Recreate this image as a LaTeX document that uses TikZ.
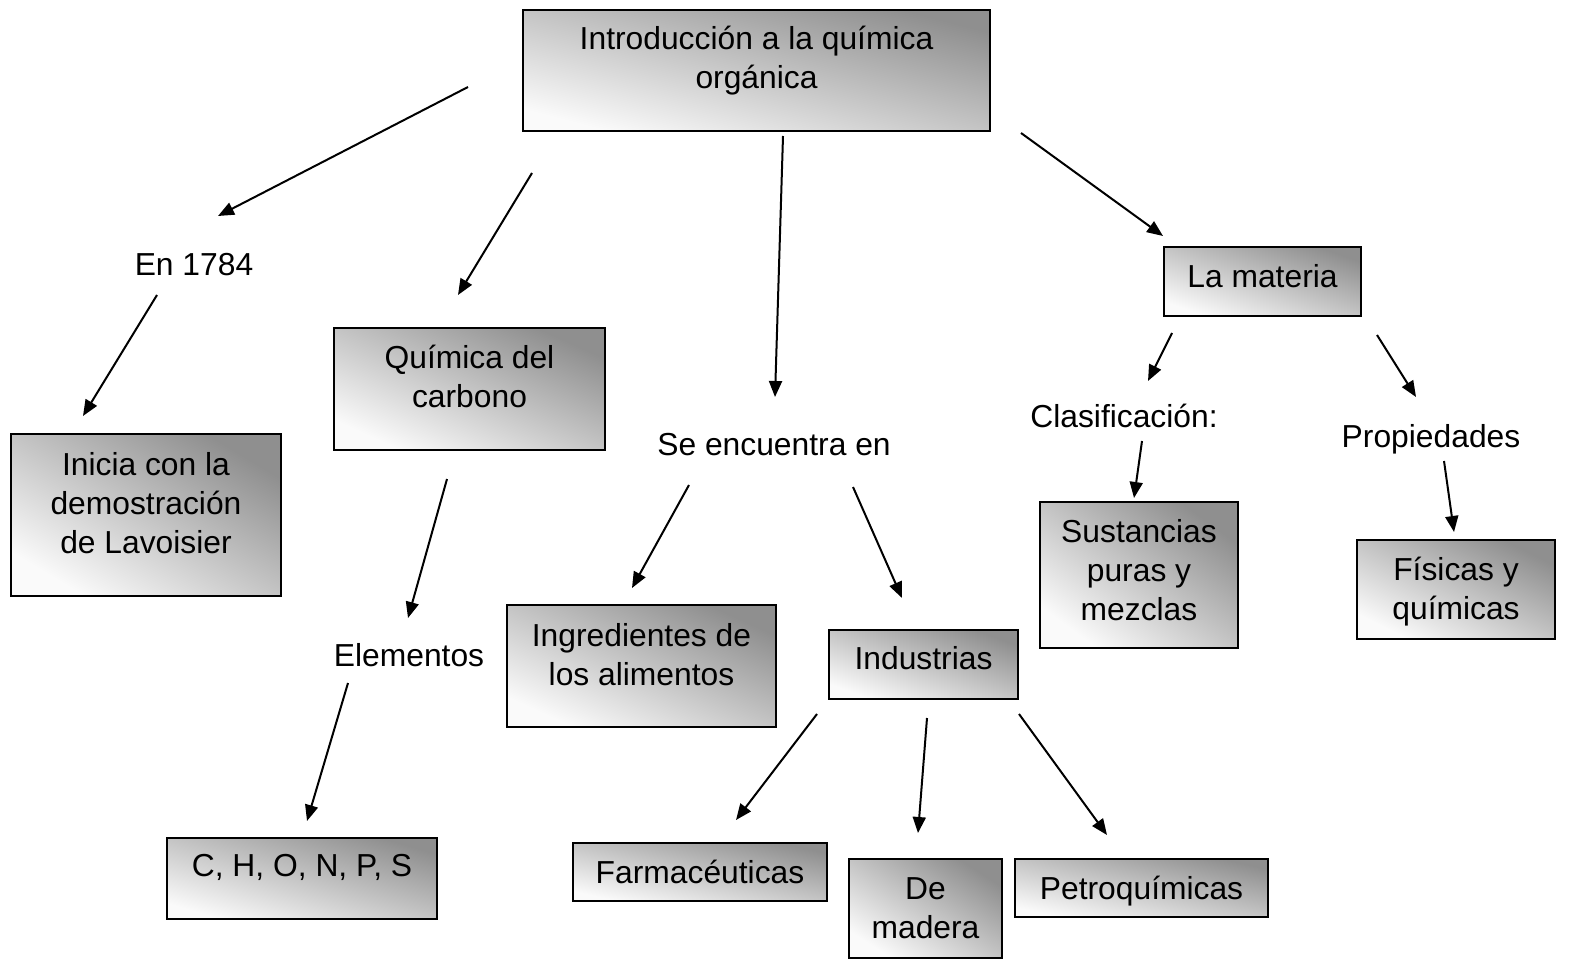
\documentclass[tikz,border=0pt]{standalone}
\usepackage{fontspec}
\setmainfont{Liberation Sans}
\usetikzlibrary{arrows.meta}

\begin{document}
\begin{tikzpicture}[x=0.5pt,y=-0.5pt,
  font=\fontsize{15.9pt}{19.5pt}\selectfont,
  caja/.style={draw, line width=1pt, top color=black!44, middle color=black!16, bottom color=black!2, align=center, inner sep=0pt},
  etiq/.style={anchor=base},
  flecha/.style={line width=1pt, -{Triangle[length=8pt,width=6.5pt]}}]

\useasboundingbox (0,0) rectangle (1572,962);

% cajas (degradado de esquina a esquina)
\node[caja, shading angle={-atan(121/467)}, minimum width=233.5pt, text height=39.25pt, text depth=21.25pt] (intro) at (756.5,70.5) {Introducción a la química\\orgánica};
\node[caja, shading angle={-atan(162/270)}, minimum width=135pt, text height=59.75pt, text depth=21.25pt] (inicia) at (146,515) {Inicia con la\\demostración\\de Lavoisier};
\node[caja, shading angle={-atan(122/271)}, minimum width=135.5pt, text height=39.75pt, text depth=21.25pt] (carbono) at (469.5,389) {Química del\\carbono};
\node[caja, shading angle={-atan(81/270)}, minimum width=135pt, text height=19.25pt, text depth=21.25pt] (chonps) at (302,878.5) {C, H, O, N, P, S};
\node[caja, shading angle={-atan(122/269)}, minimum width=134.5pt, text height=40.25pt, text depth=20.75pt] (ingred) at (641.5,666) {Ingredientes de\\los alimentos};
\node[caja, shading angle={-atan(69/189)}, minimum width=94.5pt, text height=19.75pt, text depth=14.75pt] (indus) at (923.5,664.5) {Industrias};
\node[caja, shading angle={-atan(58/254)}, minimum width=127pt, text height=20.25pt, text depth=8.75pt] (farma) at (700,872) {Farmacéuticas};
\node[caja, shading angle={-atan(99/153)}, minimum width=76.5pt, text height=39.75pt, text depth=9.75pt] (madera) at (925.5,908.5) {De\\madera};
\node[caja, shading angle={-atan(58/253)}, minimum width=126.5pt, text height=20.25pt, text depth=8.75pt] (petro) at (1141.5,888) {Petroquímicas};
\node[caja, shading angle={-atan(69/197)}, minimum width=98.5pt, text height=20.25pt, text depth=14.25pt] (materia) at (1262.5,281.5) {La materia};
\node[caja, shading angle={-atan(146/198)}, minimum width=99pt, text height=59.25pt, text depth=13.75pt] (sustan) at (1139,575) {Sustancias\\puras y\\mezclas};
\node[caja, shading angle={-atan(99/198)}, minimum width=99pt, text height=39.75pt, text depth=9.75pt] (fisicas) at (1456,589.5) {Físicas y\\químicas};

% textos sueltos
\node[etiq] (en) at (194,275.5) {En 1784};
\node[etiq] (elem) at (409,666.5) {Elementos};
\node[etiq] (seenc) at (774,455.5) {Se encuentra en};
\node[etiq] (clasif) at (1124,427.5) {Clasificación:};
\node[etiq] (prop) at (1431,447.5) {Propiedades};

% extremos de las flechas
\coordinate (o1) at (468,87);   \coordinate (d1) at (218,216);
\coordinate (o2) at (532,173);  \coordinate (d2) at (458,295);
\coordinate (o3) at (783,136);  \coordinate (d3) at (775,397);
\coordinate (o4) at (1021,133); \coordinate (d4) at (1163,236);
\coordinate (o5) at (157,295);  \coordinate (d5) at (83,416);
\coordinate (o6) at (447,479);  \coordinate (d6) at (408,618);
\coordinate (o7) at (348,683);  \coordinate (d7) at (307,821);
\coordinate (o8) at (689,485);  \coordinate (d8) at (632,588);
\coordinate (o9) at (853,487);  \coordinate (d9) at (902,598);
\coordinate (o10) at (817,714); \coordinate (d10) at (736,820);
\coordinate (o11) at (927,718); \coordinate (d11) at (918,833);
\coordinate (o12) at (1019,714); \coordinate (d12) at (1107,835);
\coordinate (o13) at (1172,333); \coordinate (d13) at (1148,381);
\coordinate (o14) at (1377,335); \coordinate (d14) at (1416,397);
\coordinate (o15) at (1142,441); \coordinate (d15) at (1134,498);
\coordinate (o16) at (1444,461); \coordinate (d16) at (1454,532);

% flechas
\foreach \i in {1,...,16}
  \draw[flecha] (o\i) -- (d\i);

\end{tikzpicture}
\end{document}
